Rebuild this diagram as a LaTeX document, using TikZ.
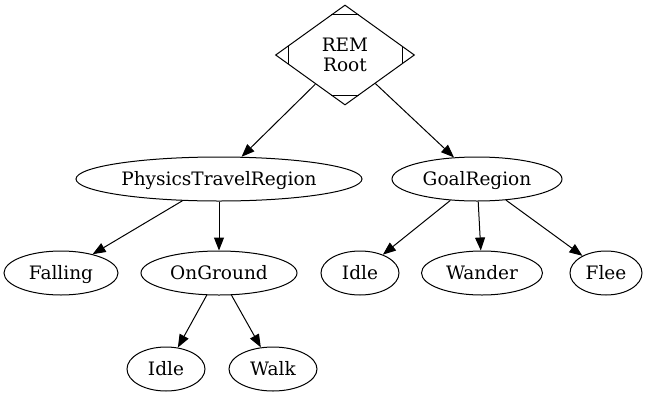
\documentclass[tikz,border=0pt]{standalone}
\usepackage{fontspec}
\setmainfont{DejaVu Serif}
\usetikzlibrary{shapes.geometric,arrows.meta,calc}
\begin{document}
\begin{tikzpicture}[x=1pt,y=-1pt,
  every node/.style={font=\fontsize{18.5pt}{20pt}\selectfont, line width=1pt},
  ell/.style={draw, ellipse, inner sep=0pt, minimum height=44pt, text height=14pt, text depth=2pt},
  conn/.style={draw, line width=1pt, -{Triangle[length=13pt,width=10pt]}},
  cornermark/.style={draw, line width=1pt}]
\useasboundingbox (0,0) rectangle (657,400);
\node[draw, diamond, aspect=1.39, inner sep=0pt, minimum width=139pt, minimum height=100pt, align=center] (root) at (345,55) {REM\\Root};
\draw[cornermark] ($(root.north)+(-14,10)$) -- ($(root.north)+(14,10)$);
\draw[cornermark] ($(root.south)+(-14,-10)$) -- ($(root.south)+(14,-10)$);
\draw[cornermark] ($(root.west)+(13,-9)$) -- ($(root.west)+(13,9)$);
\draw[cornermark] ($(root.east)+(-13,-9)$) -- ($(root.east)+(-13,9)$);
\node[ell, minimum width=286pt] (ptr) at (219,179) {PhysicsTravelRegion};
\node[ell, minimum width=170pt] (goal) at (477,179) {GoalRegion};
\node[ell, minimum width=114pt] (fall) at (61,273) {Falling};
\node[ell, minimum width=156pt] (ong) at (219,273) {OnGround};
\node[ell, minimum width=78pt] (idle1) at (360,273) {Idle};
\node[ell, minimum width=121pt] (wander) at (482,273) {Wander};
\node[ell, minimum width=72pt] (flee) at (606,273) {Flee};
\node[ell, minimum width=78pt] (idle2) at (166,369) {Idle};
\node[ell, minimum width=88pt] (walk) at (273,369) {Walk};
\path[conn] (root) -- (ptr);
\path[conn] (root) -- (goal);
\path[conn] (ptr) -- (fall);
\path[conn] (ptr) -- (ong);
\path[conn] (goal) -- (idle1);
\path[conn] (goal) -- (wander);
\path[conn] (goal) -- (flee);
\path[conn] (ong) -- (idle2);
\path[conn] (ong) -- (walk);
\end{tikzpicture}
\end{document}
